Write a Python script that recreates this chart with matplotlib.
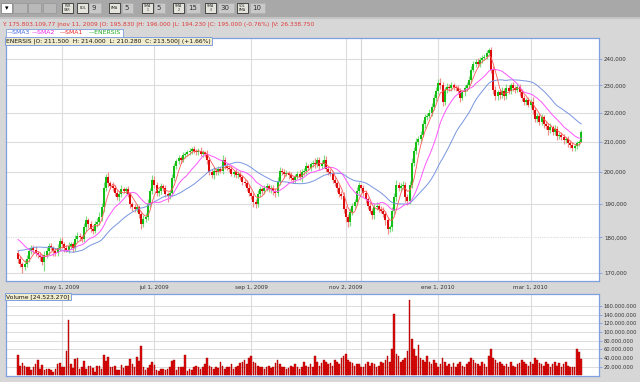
import matplotlib
matplotlib.use("Agg")
import matplotlib.pyplot as plt
from matplotlib.patches import Rectangle
from matplotlib.ticker import FuncFormatter, FixedLocator
import numpy as np
import pandas as pd

# closes before the visible window (only used to warm up the moving averages)
pre_close = [168, 169, 170, 169.5, 171, 172, 171.5, 173, 174, 173.5, 175, 176, 175.5, 177, 178,
             180, 181.5, 182, 183, 182.5, 181.5, 182, 181, 180.5, 179.5,
             176.5, 176, 175.5, 175.5]

# daily closes, thousands of CLP (apr 2009 - mar 2010)
close = [174, 172.5, 171.5, 172.5, 174, 176, 177, 176.5, 175.5, 175,
         174.5, 173, 175, 176, 177.5, 177, 176, 175.5, 177, 179,
         178, 177, 176.5, 177.5, 178, 177, 179.5, 180.5, 180, 179.5,
         183, 185, 184, 182.5, 182, 184, 184.5, 186, 189, 195,
         198.5, 196.5, 195.5, 195, 193.5, 192, 193, 194.5, 194, 194.5,
         193, 190, 189, 188.5, 189, 187, 184, 185.5, 186, 190,
         194, 197.5, 196, 193.5, 194, 195.5, 195, 193, 192.5, 193.5,
         198, 202, 203.5, 204.5, 204, 205.5, 206, 206.5, 207, 207.5,
         207, 206.5, 207, 206, 206.5, 206, 204, 200, 199, 200.5,
         200, 201, 200.5, 204, 202, 201.5, 201, 199.5, 200, 199,
         199.5, 198.5, 197, 196.5, 195, 193.5, 192.5, 190.5, 190, 193,
         194.5, 194, 195, 195.5, 194.5, 195, 194, 193.5, 197, 200.5,
         200, 199.5, 199.8, 199, 198, 197.5, 198.5, 199.5, 198.5, 200,
         200.5, 202, 201.5, 202.5, 203, 202.5, 204, 202, 202.5, 204,
         201, 200, 199.5, 197.5, 196.5, 195, 193, 192.5, 188.5, 186,
         184.5, 187.5, 189.5, 190.5, 194, 195.83, 195, 193.5, 191.5, 189.5,
         188, 186.5, 189, 189.5, 188.5, 188, 187, 185, 182.5, 183,
         188, 192, 196, 195, 195.5, 196, 192, 191, 196, 203,
         207, 210, 211, 212.5, 216, 218.5, 219, 220, 222, 225.5,
         228, 231, 230, 224, 228.5, 229.5, 229, 230, 229.5, 229,
         228, 225.5, 227.5, 229, 230, 232, 236, 238, 239, 238,
         239.5, 240.5, 241, 242.5, 243.5, 236, 228.5, 226, 227.5, 226.5,
         228, 226, 229, 228, 230, 229, 228.5, 229.5, 227.5, 225.5,
         224, 224.5, 223, 224, 221, 218, 219, 217, 218.5, 216,
         215.5, 214, 215, 213.5, 214.5, 212, 212.5, 211.5, 210.5, 211,
         209.5, 209, 208, 208.5, 209.5, 210, 213.5]

# wick above / below the body
wick_hi = [1.0, 0.8, 0.6, 1.2, 0.9, 1.0, 0.7, 0.8, 1.1, 0.6,
           0.9, 0.7, 1.0, 1.3, 0.8, 0.9, 0.6, 1.0, 1.2, 0.8,
           1.0, 0.7, 0.9, 1.1, 0.8, 0.6, 1.2, 1.0, 0.9, 0.7,
           1.4, 1.2, 0.8, 0.9, 1.0, 0.7, 1.1, 1.5, 1.2, 1.8,
           1.0, 1.5, 0.8, 1.2, 0.9, 0.7, 1.0, 1.3, 0.8, 0.9,
           1.2, 0.8, 0.7, 1.0, 0.9, 0.6, 0.8, 1.0, 1.2, 1.4,
           1.0, 1.6, 1.2, 0.8, 0.9, 1.1, 0.7, 1.0, 0.8, 0.9,
           1.3, 1.0, 0.9, 1.2, 0.8, 1.0, 0.7, 0.9, 1.1, 0.8,
           1.0, 0.7, 0.9, 1.2, 0.8, 0.6, 1.4, 1.0, 0.9, 1.1,
           0.8, 1.0, 0.7, 1.5, 1.0, 0.8, 0.9, 1.1, 0.7, 0.9,
           1.0, 0.8, 0.7, 0.9, 1.1, 0.8, 0.6, 1.0, 0.9, 1.2,
           1.0, 0.8, 0.9, 1.1, 0.7, 1.0, 0.8, 0.9, 1.3, 1.2,
           0.9, 1.0, 0.8, 0.7, 1.1, 0.9, 1.0, 0.8, 1.2, 0.9,
           1.0, 1.2, 0.8, 0.9, 1.1, 1.5, 1.0, 0.8, 1.3, 1.6,
           1.2, 0.9, 1.0, 0.8, 1.1, 0.7, 0.9, 1.0, 1.2, 0.8,
           1.0, 1.3, 0.9, 1.1, 1.4, 1.0, 0.2, 1.0, 0.9, 0.7,
           1.1, 0.8, 1.2, 1.0, 0.9, 0.8, 1.1, 0.9, 1.0, 0.8,
           1.2, 1.4, 1.5, 1.0, 0.9, 1.2, 0.8, 1.0, 1.3, 1.6,
           1.4, 1.2, 1.0, 1.3, 1.5, 1.2, 1.0, 1.4, 1.6, 1.2,
           1.5, 1.3, 1.8, 1.2, 1.0, 1.4, 0.9, 1.2, 1.0, 0.8,
           1.0, 1.2, 0.9, 1.1, 1.3, 1.5, 1.2, 1.4, 1.0, 1.3,
           1.2, 0.9, 1.1, 1.0, 1.0, 1.4, 1.5, 1.2, 1.0, 1.3,
           1.5, 1.0, 1.4, 1.2, 1.0, 1.3, 0.9, 1.1, 1.0, 1.2,
           1.0, 0.8, 1.1, 0.9, 1.6, 1.2, 0.9, 1.0, 1.3, 0.8,
           1.1, 0.9, 1.4, 0.8, 1.2, 1.0, 0.9, 0.8, 1.1, 0.7,
           0.9, 1.0, 0.8, 0.9, 0.7, 0.8, 0.5]
wick_lo = [1.2, 1.0, 1.5, 0.8, 0.9, 1.0, 0.7, 1.0, 0.8, 0.9,
           1.1, 0.8, 2.5, 0.9, 1.0, 0.7, 1.2, 0.9, 0.8, 1.0,
           0.9, 1.1, 0.8, 1.0, 0.7, 1.3, 0.9, 0.8, 1.0, 0.9,
           0.8, 1.0, 1.2, 0.9, 1.1, 0.8, 1.0, 0.7, 1.2, 1.4,
           1.0, 1.2, 0.9, 1.0, 1.1, 0.8, 1.0, 0.9, 0.7, 1.0,
           0.9, 1.2, 1.0, 0.8, 1.1, 1.3, 1.5, 1.0, 0.9, 1.0,
           0.8, 1.0, 1.2, 0.9, 1.0, 0.8, 1.1, 1.0, 2.0, 0.9,
           1.0, 0.8, 1.1, 0.9, 1.0, 0.7, 0.9, 0.8, 1.0, 0.9,
           0.8, 1.0, 0.9, 0.7, 1.0, 0.9, 1.2, 1.0, 0.8, 1.1,
           0.9, 1.0, 0.8, 1.1, 0.9, 0.7, 1.0, 0.9, 1.1, 0.8,
           0.9, 1.0, 1.1, 0.8, 1.0, 1.2, 0.9, 1.3, 1.2, 1.0,
           0.8, 1.0, 0.9, 1.1, 0.8, 1.0, 1.3, 1.5, 0.9, 1.0,
           0.8, 1.0, 0.9, 1.1, 0.8, 1.0, 0.9, 0.8, 1.0, 1.8,
           0.9, 1.0, 0.8, 1.1, 0.9, 1.0, 0.8, 1.2, 0.9, 1.0,
           0.8, 1.0, 0.9, 1.1, 1.0, 1.2, 0.9, 1.1, 1.3, 1.5,
           1.4, 1.0, 0.9, 1.1, 0.8, 0.8, 0.8, 1.0, 1.2, 1.0,
           0.9, 1.2, 1.0, 0.8, 1.1, 0.9, 1.0, 1.3, 1.5, 1.0,
           1.2, 1.0, 1.1, 0.9, 1.0, 0.8, 1.5, 1.2, 1.0, 1.1,
           1.0, 1.2, 0.9, 1.1, 1.0, 1.3, 1.0, 0.9, 1.2, 1.0,
           1.1, 1.0, 1.2, 1.5, 1.0, 1.3, 1.1, 0.9, 1.2, 1.0,
           1.1, 1.4, 1.0, 1.2, 0.9, 1.0, 1.2, 0.8, 1.0, 1.1,
           0.9, 1.0, 0.8, 1.0, 0.9, 1.3, 1.6, 1.4, 1.2, 1.5,
           1.2, 1.5, 1.0, 1.3, 1.1, 1.0, 1.2, 0.9, 1.3, 1.1,
           1.0, 1.2, 1.0, 1.3, 1.5, 1.2, 1.0, 1.3, 1.1, 1.2,
           1.0, 1.5, 1.1, 1.3, 1.0, 1.2, 1.1, 1.0, 1.2, 1.0,
           1.1, 1.0, 1.2, 0.9, 1.0, 0.8, 0.0]

# daily volume, millions of shares
volume = [47, 21, 29, 21, 19, 18, 12, 18, 25, 36,
          15, 23, 13, 15, 15, 12, 8, 15, 25, 28,
          19, 18, 55, 129, 26, 17, 37, 40, 15, 18,
          34, 15, 21, 21, 17, 8, 21, 21, 15, 48,
          34, 42, 18, 18, 21, 12, 12, 23, 17, 21,
          21, 37, 25, 20, 43, 34, 68, 20, 13, 17,
          23, 31, 23, 12, 10, 15, 15, 12, 15, 18,
          34, 35, 12, 18, 20, 20, 46, 10, 14, 12,
          18, 21, 20, 15, 18, 25, 40, 22, 18, 15,
          20, 17, 30, 22, 15, 18, 20, 25, 15, 18,
          22, 28, 30, 35, 25, 40, 45, 30, 28, 22,
          18, 20, 15, 18, 22, 17, 20, 28, 35, 25,
          18, 20, 15, 17, 22, 18, 25, 20, 15, 18,
          30, 22, 18, 25, 20, 45, 30, 22, 28, 35,
          30, 25, 28, 22, 35, 30, 25, 40, 45, 50,
          35, 30, 28, 22, 25, 26, 20, 18, 25, 30,
          22, 28, 25, 20, 22, 30, 28, 35, 45, 30,
          60, 143, 50, 45, 30, 35, 40, 55, 175, 85,
          60, 45, 70, 40, 35, 30, 45, 30, 25, 35,
          28, 20, 25, 40, 30, 22, 25, 20, 28, 18,
          25, 30, 22, 20, 25, 30, 40, 35, 28, 25,
          22, 30, 25, 20, 45, 60, 40, 35, 28, 30,
          25, 22, 25, 20, 30, 22, 18, 25, 28, 35,
          30, 25, 22, 30, 25, 40, 35, 28, 25, 22,
          30, 25, 20, 25, 30, 22, 28, 20, 25, 30,
          22, 18, 20, 18, 61, 54, 37]

tick_pos = [20, 62, 106, 149, 191, 233]
tick_lab = ["may 1, 2009", "jul 1, 2009", "sep 1, 2009", "nov 2, 2009", "ene 1, 2010", "mar 1, 2010"]
price_ticks = [170, 180, 190, 200, 210, 220, 230, 240]
vol_ticks = [20, 40, 60, 80, 100, 120, 140, 160]
cursor_day = 156

W, H = 640, 382
fig = plt.figure(figsize=(W / 100, H / 100), dpi=100, facecolor="#d7d7d7")

def fx(x): return x / W
def fy(y): return 1 - y / H

def rect(x0, y0, x1, y1, fc, ec="none", lw=0.6, z=0):
    fig.patches.append(Rectangle((fx(x0), fy(y1)), fx(x1) - fx(x0), fy(y0) - fy(y1),
                                 transform=fig.transFigure, fc=fc, ec=ec, lw=lw, zorder=z))

# toolbar
rect(0, 0, 640, 17, "#a8a8a8")
rect(0, 17, 640, 19, "#c4c4c4")
rect(1, 3, 12, 13, "white", "#888")
fig.text(fx(6.5), fy(8.5), "\u25be", fontsize=5, ha="center", va="center")
for x0, x1 in [(13, 27), (28, 41), (43, 56)]:
    rect(x0, 3, x1, 13, "#b9b9b9", "#9a9a9a")
icons = [(62, 73, "PSR\nSAR"), (77, 88, "BOL"), (109, 120, "EMA"), (142, 153, "SMA\n1"),
         (173, 184, "SMA\n2"), (205, 216, "SMA\n3"), (237, 248, "VOL\nEMA")]
for x0, x1, lab in icons:
    rect(x0, 3, x1, 13, "#e4e4dc", "#333")
    fig.text(fx((x0 + x1) / 2), fy(8), lab, fontsize=2.3, ha="center", va="center",
             color="#222", linespacing=0.9)
for x0, x1, lab in [(89, 101, "9"), (122, 133, "5"), (154, 165, "5"), (186, 200, "15"),
                    (218, 234, "30"), (250, 265, "10")]:
    rect(x0, 3, x1, 13, "#c9c9c9", "#b0b0b0")
    fig.text(fx(x0 + 2), fy(8.3), lab, fontsize=5, ha="left", va="center", color="#333")

# status line
fig.text(fx(2), fy(24), "Y: 175.803.109,77 |nov 11, 2009 |O: 195.830 |H: 196.000 |L: 194.230 "
         "|C: 195.000 (-0.76%) |V: 26.338.750", fontsize=4.25, color="#e03a3a", va="center")

# legend
rect(6, 29, 123, 37, "white", "#7f9fdf", z=5)
for x, lab, col in [(7, "\u2014SMA3", "#4466dd"), (32, "\u2014SMA2", "#ee22ee"),
                    (60, "\u2014SMA1", "#ee2222"), (89, "\u2014ENERSIS", "#22aa22")]:
    fig.text(fx(x), fy(33), lab, fontsize=4.4, color=col, va="center", zorder=6)

# data prep
full = np.array(pre_close + close, dtype=float)
c = np.array(close, dtype=float)
o = full[len(pre_close) - 1:-1]
hi = np.maximum(o, c) + np.array(wick_hi)
lo = np.minimum(o, c) - np.array(wick_lo)
idx = np.arange(len(c))
sma = {n: pd.Series(full).rolling(n).mean().values[len(pre_close):] for n in (5, 15, 30)}
vol = np.array(volume, dtype=float)

xl = ((6 - 18) / 2.2, (599 - 18) / 2.2)
spine_col = "#7f9fdf"
txt_col = "#333333"

# price panel
ax = fig.add_axes([fx(6), fy(281), fx(599) - fx(6), fy(38) - fy(281)])
ax.set_facecolor("white")
ax.set_yscale("log")
ax.set_ylim(167.8, 248.3)
ax.set_xlim(*xl)
for p in price_ticks:
    ax.axhline(p, color="#dcdcdc", lw=0.8, ls=(0, (1, 1)) if p == 180 else "-", zorder=0)
for t in tick_pos:
    ax.axvline(t, color="#dcdcdc", lw=0.8, zorder=0)
ax.axvline(cursor_day, color="#d4d4d4", lw=0.8, zorder=0)

up = c >= o
wick_col = np.where(up, "#80dc80", "#f28c8c")
body_col = np.where(up, "#14bf14", "#dc0c0c")
ax.vlines(idx, lo, hi, colors=wick_col, lw=0.85, zorder=2)
bot = np.minimum(o, c)
hgt = np.maximum(np.abs(c - o), 0.3)
ax.bar(idx, hgt, bottom=bot, width=0.82, color=body_col, lw=0, zorder=3)
ax.plot(idx, sma[30], color="#7895e0", lw=0.7, zorder=4)
ax.plot(idx, sma[15], color="#ff55ff", lw=0.7, zorder=4)
ax.plot(idx, sma[5], color="#ff5555", lw=0.6, zorder=4)

ax.yaxis.tick_right()
ax.yaxis.set_major_locator(FixedLocator(price_ticks))
ax.yaxis.set_minor_locator(FixedLocator([]))
ax.yaxis.set_major_formatter(FuncFormatter(lambda v, p: f"{int(round(v * 1000)):,}"))
ax.yaxis.set_minor_formatter(FuncFormatter(lambda v, p: ""))
ax.tick_params(axis="y", length=2.5, width=0.6, color=spine_col, labelsize=4.0,
               labelcolor=txt_col, pad=1)
ax.set_xticks(tick_pos)
ax.set_xticklabels(tick_lab)
ax.tick_params(axis="x", length=0, labelsize=4.1, labelcolor=txt_col, pad=3)
for s in ax.spines.values():
    s.set_color(spine_col)
    s.set_linewidth(0.9)

ax.text(0.0, 1.0, "ENERSIS |O: 211.500  H: 214.000  L: 210.280  C: 213.500| (+1.66%)",
        transform=ax.transAxes, fontsize=4.3, color="#111", ha="left", va="top", zorder=6,
        bbox=dict(boxstyle="square,pad=0.25", fc="#f1edcc", ec=spine_col, lw=0.7))

# volume panel
av = fig.add_axes([fx(6), fy(376), fx(599) - fx(6), fy(294) - fy(376)])
av.set_facecolor("white")
av.set_xlim(*xl)
av.set_ylim(-1.8, 188.2)
for v in vol_ticks:
    av.axhline(v, color="#dcdcdc", lw=0.7, zorder=0)
for t in tick_pos:
    av.axvline(t, color="#dcdcdc", lw=0.8, zorder=0)
av.axvline(cursor_day, color="#d4d4d4", lw=0.8, zorder=0)
av.bar(idx, vol, width=0.78, color="#e00a0a", edgecolor="#a00000", lw=0.3, zorder=2)
av.yaxis.tick_right()
av.set_yticks(vol_ticks)
av.yaxis.set_major_formatter(FuncFormatter(lambda v, p: f"{int(round(v * 1e6)):,}".replace(",", ".")))
av.tick_params(axis="y", length=2.5, width=0.6, color=spine_col, labelsize=3.7,
               labelcolor=txt_col, pad=1)
av.set_xticks([])
for s in av.spines.values():
    s.set_color(spine_col)
    s.set_linewidth(0.9)
av.text(0.0, 1.0, "Volume [24.523.270]", transform=av.transAxes, fontsize=4.3, color="#111",
        ha="left", va="top", zorder=6,
        bbox=dict(boxstyle="square,pad=0.25", fc="#f1edcc", ec=spine_col, lw=0.7))

fig.savefig("out.png", dpi=100, facecolor=fig.get_facecolor())
